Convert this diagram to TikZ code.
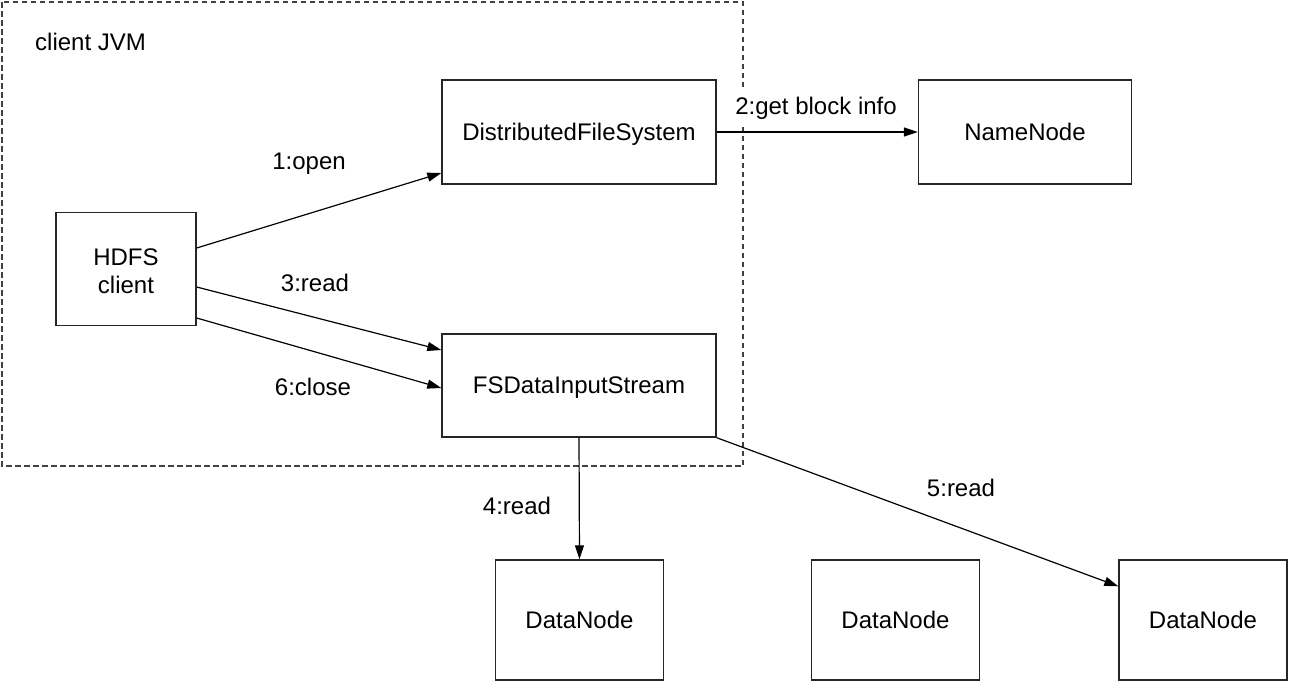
\documentclass[tikz,border=0pt]{standalone}
\usepackage{fontspec}
\setmainfont{Liberation Sans}
\usetikzlibrary{arrows.meta}
\begin{document}
\begin{tikzpicture}[x=1pt,y=-1pt,
  box/.style={draw=black!85, line width=1.4pt, rectangle, inner sep=0pt, align=center, text depth=0pt},
  conn/.style={draw=black, line width=1.2pt, -{Triangle[length=14pt,width=9pt]}},
  lbl/.style={inner sep=0pt, anchor=base},
  every node/.style={font=\fontsize{24}{28}\selectfont}
]
\useasboundingbox (0,0) rectangle (1290,681);
% client JVM frame
\draw[black!75, line width=1.4pt, dash pattern=on 5.5pt off 3.5pt] (2,2) rectangle (743,466);
\node[lbl, anchor=base west] (jvm) at (35,50) {client JVM};
% boxes
\node[box, minimum width=140pt, minimum height=113pt, text height=48pt] (hdfs) at (126,269) {HDFS\\client};
\node[box, minimum width=274pt, minimum height=104pt] (dfs) at (579,132) {DistributedFileSystem};
\node[box, minimum width=213pt, minimum height=104pt] (nn) at (1025,132) {NameNode};
\node[box, minimum width=274pt, minimum height=103pt] (fs) at (579,385.5) {FSDataInputStream};
\node[box, minimum width=168pt, minimum height=120pt] (dn1) at (579.5,620) {DataNode};
\node[box, minimum width=168pt, minimum height=120pt] (dn2) at (895.5,620) {DataNode};
\node[box, minimum width=168pt, minimum height=120pt] (dn3) at (1203,620) {DataNode};
% labels
\node[lbl] (l1) at (309,169.5) {1:open};
\node[lbl, fill=white, inner xsep=2pt, inner ysep=8pt] (l2) at (816,114) {2:get block info};
\node[lbl] (l3) at (315,291) {3:read};
\node[lbl] (l6) at (313,395) {6:close};
\node[lbl] (l4) at (517,514) {4:read};
\node[lbl] (l5) at (961,496) {5:read};
% connectors
\draw[conn] ([yshift=21pt]hdfs.east) -- ([yshift=-41pt]dfs.west);
\draw[conn] (dfs.east) -- (nn.west);
\draw[conn] ([yshift=-18pt]hdfs.east) -- ([yshift=35.5pt]fs.west);
\draw[conn] ([yshift=-49pt]hdfs.east) -- ([yshift=-2.5pt]fs.west);
\draw[conn] (fs.south) -- (dn1.north);
\draw[conn] (fs.south east) -- ([yshift=-27pt]dn3.north west);
\end{tikzpicture}
\end{document}
